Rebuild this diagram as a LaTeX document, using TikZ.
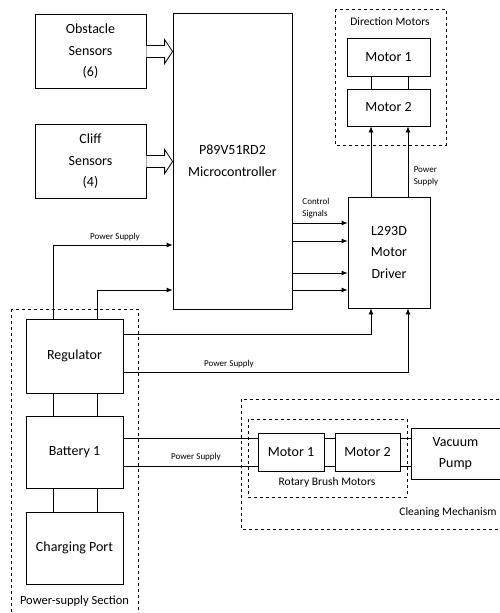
\documentclass[tikz,border=0pt]{standalone}
\usepackage{fontspec}
\setmainfont{Carlito}
\usetikzlibrary{arrows.meta, positioning}
\tikzset{
    block/.style={draw, thick, align=center, inner sep=0pt, font=\fontsize{14}{21.5}\selectfont}, % boxes of the diagram
    group/.style={draw, dashed, thin}, % dashed frames round a group
    tag/.style={font=\fontsize{9}{12}\selectfont, align=left, inner sep=0pt}, % small line labels
    grptag/.style={font=\fontsize{11.5}{13}\selectfont, inner sep=0pt}, % names of the groups
}
\tikzstyle{arrow} = [thick, -{Latex[length=6pt, width=5pt]}]
\tikzstyle{bus} = [thick, line join=miter, fill=white]

\begin{document}
\begin{tikzpicture}[x=1pt, y=-1pt]
    \useasboundingbox (0,0) rectangle (500,613);

    % sensors and controller
    \node[block, minimum width=111pt, minimum height=74pt] (obst) at (90.5,51.5) {Obstacle\\Sensors\\(6)};
    \node[block, minimum width=111pt, minimum height=74pt] (cliff) at (90.5,161.5) {Cliff\\Sensors\\(4)};
    \node[block, minimum width=119pt, minimum height=296pt] (mcu) at (232.5,161) {P89V51RD2\\Microcontroller};

    % direction motors and driver
    \draw[group] (335,9) rectangle (446,145);
    \node[grptag] (dirtag) at (390,22) {Direction Motors};
    \node[block, minimum width=83pt, minimum height=38pt] (dm1) at (388.5,57) {Motor 1};
    \node[block, minimum width=83pt, minimum height=37pt] (dm2) at (388.5,107.5) {Motor 2};
    \node[block, minimum width=82pt, minimum height=111pt] (drv) at (389,252.5) {L293D\\Motor\\Driver};

    % power-supply section
    \draw[group] (11,309) rectangle (138,630);
    \node[block, minimum width=97pt, minimum height=74pt] (reg) at (74.5,356) {Regulator};
    \node[block, minimum width=97pt, minimum height=72pt] (bat) at (74.5,452) {Battery 1};
    \node[block, minimum width=97pt, minimum height=72pt] (chg) at (74.5,548) {Charging Port};
    \node[grptag, font=\fontsize{12.5}{14}\selectfont] (psutag) at (74.5,601) {Power-supply Section};

    % cleaning mechanism
    \draw[group] (241,399) rectangle (510,529);
    \draw[group] (248,419) rectangle (407,497);
    \node[block, minimum width=66pt, minimum height=38pt] (rm1) at (291,452) {Motor 1};
    \node[block, minimum width=65pt, minimum height=38pt] (rm2) at (367.5,452.5) {Motor 2};
    \node[block, minimum width=89pt, minimum height=51pt] (pump) at (455.5,453.5) {Vacuum\\Pump};
    \node[grptag] (rbtag) at (327,482) {Rotary Brush Motors};
    \node[grptag] (cmtag) at (448,512) {Cleaning Mechanism};

    % sensor buses (hollow block arrows)
    \foreach \src in {obst,cliff}
        \draw[bus] ([yshift=6pt]\src.east)
            -- ([xshift=-8pt, yshift=6pt]\src.east -| mcu.west)
            -- ([xshift=-8pt, yshift=12pt]\src.east -| mcu.west)
            -- (\src.east -| mcu.west)
            -- ([xshift=-8pt, yshift=-12pt]\src.east -| mcu.west)
            -- ([xshift=-8pt, yshift=-6pt]\src.east -| mcu.west)
            -- ([yshift=-6pt]\src.east);

    % control signals
    \foreach \yy in {223,241,273,290}
        \draw[arrow] (mcu.east |- 0,\yy) -- (drv.west |- 0,\yy);
    \node[tag] (ctltag) at (316,208) {Control\\Signals};

    % driver to direction motors
    \foreach \xx in {371,408} {
        \draw[arrow] (drv.north -| \xx,0) -- (dm2.south -| \xx,0);
        \draw[thick] (dm1.south -| \xx,0) -- (dm2.north -| \xx,0);
    }
    \node[tag] (pstag1) at (426,176) {Power\\Supply};

    % regulator outputs
    \draw[arrow] (reg.north -| 53,0) |- (mcu.west |- 0,245);
    \draw[arrow] (reg.north -| 97,0) |- (mcu.west |- 0,290);
    \node[tag] (pstag2) at (115,237) {Power Supply};
    \draw[arrow] (reg.east |- 0,334) -| (drv.south -| 371,0);
    \draw[arrow] (reg.east |- 0,372) -| (drv.south -| 408,0);
    \node[tag] (pstag3) at (229,364) {Power Supply};

    % battery chain
    \foreach \xx in {53,97} {
        \draw[thick] (reg.south -| \xx,0) -- (bat.north -| \xx,0);
        \draw[thick] (bat.south -| \xx,0) -- (chg.north -| \xx,0);
    }
    \foreach \yy in {438,466} {
        \draw[thick] (bat.east |- 0,\yy) -- (rm1.west |- 0,\yy);
        \draw[thick] (rm1.east |- 0,\yy) -- (rm2.west |- 0,\yy);
        \draw[thick] (rm2.east |- 0,\yy) -- (pump.west |- 0,\yy);
    }
    \node[tag] (pstag4) at (196,457) {Power Supply};
\end{tikzpicture}
\end{document}
